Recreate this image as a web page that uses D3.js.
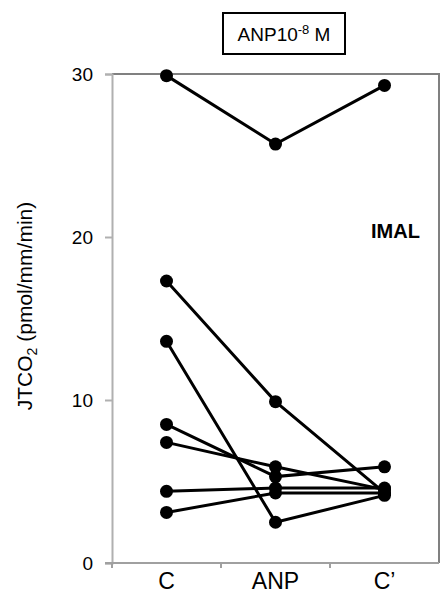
<!DOCTYPE html>
<html>
<head>
<meta charset="utf-8">
<script src="https://cdn.jsdelivr.net/npm/d3@7"></script>
<style>
  body { margin: 0; background: #fff; }
  text { font-family: Arial, "Liberation Sans", sans-serif; fill: #000; }
</style>
</head>
<body>
<svg id="chart" width="441" height="596"></svg>
<script>
// conditions along the x axis
var categories = ['C', 'ANP', 'C\u2019'];
var yTicks = [0, 10, 20, 30];

// one array per tubule: JTCO2 in C, ANP, C'
var tubule1 = [29.9, 25.7, 29.3];
var tubule2 = [17.3, 9.9, 4.3];
var tubule3 = [13.6, 2.5, 4.15];
var tubule4 = [8.5, 5.3, 5.9];
var tubule5 = [7.4, 5.9, 4.5];
var tubule6 = [4.4, 4.6, 4.6];
var tubule7 = [3.1, 4.3, 4.3];
var tubules = [tubule1, tubule2, tubule3, tubule4, tubule5, tubule6, tubule7];

var svg = d3.select('#chart');

var margin = {left: 112, right: 2, top: 74, bottom: 33};
var W = 441, H = 596;
var x0 = margin.left, x1 = W - margin.right;
var y0 = H - margin.bottom, y1 = margin.top;

var x = d3.scaleBand().domain(categories).range([x0, x1]);
var y = d3.scaleLinear().domain([0, 30]).range([y0, y1]);

// plot frame: top and right in darker gray
svg.append('path')
    .attr('d', 'M' + x0 + ',' + y1 + 'H' + x1 + 'V' + y0)
    .attr('fill', 'none')
    .attr('stroke', '#808080')
    .attr('stroke-width', 2);

// y axis
var yAxis = svg.append('g')
    .attr('transform', 'translate(' + x0 + ',0)')
    .call(d3.axisLeft(y).tickValues(yTicks).tickSize(7).tickPadding(12));
yAxis.select('.domain').attr('stroke', '#b0b0b0').attr('stroke-width', 2);
yAxis.selectAll('.tick line').attr('stroke', '#b0b0b0').attr('stroke-width', 2);
yAxis.selectAll('.tick text')
    .style('font-size', '19px')
    .style('font-family', 'Arial, "Liberation Sans", sans-serif')
    .attr('fill', '#000');

// x axis: ticks sit at band edges
var xAxis = svg.append('g')
    .attr('transform', 'translate(0,' + y0 + ')');
xAxis.append('line')
    .attr('x1', x0 - 7).attr('x2', x1)
    .attr('stroke', '#a0a0a0').attr('stroke-width', 2);
xAxis.selectAll('line.tk')
    .data(categories)
    .enter().append('line')
    .attr('class', 'tk')
    .attr('x1', function(d) { return x(d); })
    .attr('x2', function(d) { return x(d); })
    .attr('y1', 0).attr('y2', 5)
    .attr('stroke', '#a0a0a0').attr('stroke-width', 2);
xAxis.selectAll('text')
    .data(categories)
    .enter().append('text')
    .attr('x', function(d) { return x(d) + x.bandwidth() / 2; })
    .attr('y', 26)
    .attr('text-anchor', 'middle')
    .style('font-size', '23px')
    .text(function(d) { return d; });

// lines joining each tubule's measurements
var line = d3.line()
    .x(function(d, i) { return x(categories[i]) + x.bandwidth() / 2; })
    .y(function(d) { return y(d); });

var g = svg.append('g');
g.selectAll('path.tub')
    .data(tubules)
    .enter().append('path')
    .attr('class', 'tub')
    .attr('d', line)
    .attr('fill', 'none')
    .attr('stroke', '#000')
    .attr('stroke-width', 3);

tubules.forEach(function(t) {
    g.selectAll(null)
        .data(t)
        .enter().append('circle')
        .attr('cx', function(d, i) { return x(categories[i]) + x.bandwidth() / 2; })
        .attr('cy', function(d) { return y(d); })
        .attr('r', 6.5)
        .attr('fill', '#000');
});

// y axis title
svg.append('text')
    .attr('transform', 'translate(32,' + 306 + ') rotate(-90)')
    .attr('text-anchor', 'middle')
    .style('font-size', '21px')
    .call(function(s) {
        s.append('tspan').text('JTCO');
        s.append('tspan').attr('dy', 5).style('font-size', '14px').text('2');
        s.append('tspan').attr('dy', -5).text(' (pmol/mm/min)');
    });

// segment label
svg.append('text')
    .attr('x', 371).attr('y', 238)
    .style('font-size', '20px')
    .style('font-weight', 'bold')
    .text('IMAL');

// title box
svg.append('rect')
    .attr('x', 223).attr('y', 13)
    .attr('width', 122).attr('height', 41)
    .attr('fill', '#fff')
    .attr('stroke', '#000')
    .attr('stroke-width', 2);
svg.append('text')
    .attr('x', 284).attr('y', 41)
    .attr('text-anchor', 'middle')
    .style('font-size', '19px')
    .call(function(s) {
        s.append('tspan').text('ANP10');
        s.append('tspan').attr('dy', -7).style('font-size', '13px').text('-8');
        s.append('tspan').attr('dy', 7).text(' M');
    });
</script>
</body>
</html>
